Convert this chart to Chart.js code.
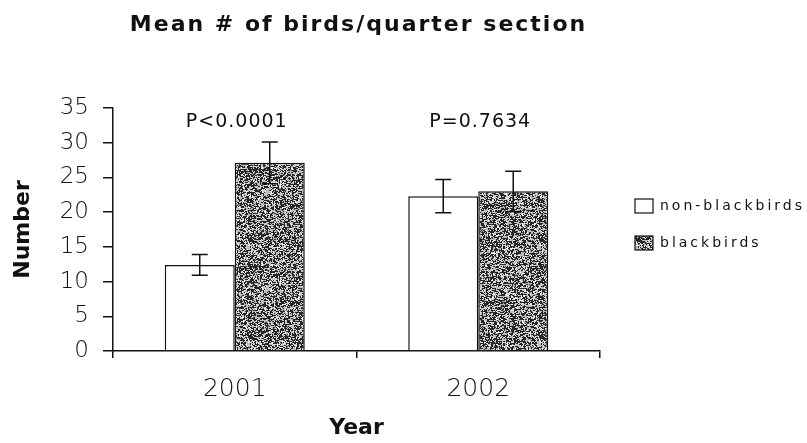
<!DOCTYPE html>
<html>
<head>
<meta charset="utf-8">
<script src="https://cdn.jsdelivr.net/npm/chart.js@4.4.1/dist/chart.umd.min.js"></script>
<style>
    html, body { margin: 0; padding: 0; background: #fff; }
    #wrap { width: 807px; height: 443px; }
</style>
</head>
<body>
<div id="wrap"><canvas id="birdsChart" width="807" height="443"></canvas></div>
<script>
// data
const years = ["2001", "2002"]
const nonBlackbirds = [12.4, 22.3]
const nonBlackbirdsErr = [1.5, 2.4]
const blackbirds = [27.1, 23.0]
const blackbirdsErr = [3.0, 2.9]
const pLabels = ["P<0.0001", "P=0.7634"]
const yMin = 0
const yMax = 35
const yStep = 5

const ink = "#111"

// speckled grey fill like the scanned hatch, fixed seed so it looks the same every time
function makeSpeckle() {
    const c = document.createElement("canvas")
    c.width = 97
    c.height = 97
    const g = c.getContext("2d")
    g.fillStyle = "#bcbcbc"
    g.fillRect(0, 0, c.width, c.height)
    let seed = 12345
    const rnd = () => {
        seed = (seed * 1103515245 + 12345) % 2147483648
        return seed / 2147483648
    }
    for (let y = 0; y < c.height; y++) {
        for (let x = 0; x < c.width; x++) {
            const r = rnd()
            if (r < 0.4) {
                g.fillStyle = "#262626"
                g.fillRect(x, y, rnd() < 0.5 ? 2 : 1, 1)
            } else if (r < 0.55) {
                g.fillStyle = "#f4f4f4"
                g.fillRect(x, y, 1, 1)
            }
        }
    }
    return g.createPattern(c, "repeat")
}

const speckle = makeSpeckle()

// error bars, p-values, title and legend drawn on top
const extrasPlugin = {
    id: "extras",
    afterDatasetsDraw(chart) {
        const ctx = chart.ctx
        const yScale = chart.scales.y
        ctx.save()
        ctx.strokeStyle = ink
        ctx.lineWidth = 1.5
        chart.data.datasets.forEach((ds, di) => {
            const meta = chart.getDatasetMeta(di)
            meta.data.forEach((bar, i) => {
                const v = ds.data[i]
                const e = ds.errors[i]
                const top = yScale.getPixelForValue(v + e)
                const bot = yScale.getPixelForValue(v - e)
                const cap = 8
                ctx.beginPath()
                ctx.moveTo(bar.x, top)
                ctx.lineTo(bar.x, bot)
                ctx.moveTo(bar.x - cap, top)
                ctx.lineTo(bar.x + cap, top)
                ctx.moveTo(bar.x - cap, bot)
                ctx.lineTo(bar.x + cap, bot)
                ctx.stroke()
            })
        })
        ctx.restore()
    },
    afterDraw(chart) {
        const ctx = chart.ctx
        const xScale = chart.scales.x
        const area = chart.chartArea
        ctx.save()
        ctx.fillStyle = ink

        // title, centred over the plot area
        ctx.font = "bold 22px 'DejaVu Sans'"
        ctx.textAlign = "center"
        ctx.textBaseline = "middle"
        ctx.letterSpacing = "2px"
        ctx.fillText("Mean # of birds/quarter section", (area.left + area.right) / 2 + 2, 25)

        // p-values above each year
        ctx.font = "19px 'DejaVu Sans'"
        ctx.letterSpacing = "1px"
        ctx.textAlign = "center"
        pLabels.forEach((t, i) => {
            ctx.fillText(t, xScale.getPixelForValue(i) + 2, 122)
        })

        // legend
        ctx.font = "14px 'DejaVu Sans'"
        ctx.letterSpacing = "3px"
        ctx.textAlign = "left"
        const rows = [206, 243]
        chart.data.datasets.forEach((ds, di) => {
            const y = rows[di]
            ctx.fillStyle = ds.backgroundColor
            ctx.fillRect(635, y - 7, 18, 14)
            ctx.strokeStyle = ink
            ctx.lineWidth = 1.2
            ctx.strokeRect(635, y - 7, 18, 14)
            ctx.fillStyle = ink
            ctx.fillText(ds.label, 660, y)
        })
        ctx.restore()
    }
}

new Chart(document.getElementById("birdsChart"), {
    type: "bar",
    data: {
        labels: years,
        datasets: [
            {
                label: "non-blackbirds",
                data: nonBlackbirds,
                errors: nonBlackbirdsErr,
                backgroundColor: "#ffffff",
                borderColor: ink,
                borderWidth: 1.5
            },
            {
                label: "blackbirds",
                data: blackbirds,
                errors: blackbirdsErr,
                backgroundColor: speckle,
                borderColor: ink,
                borderWidth: 1.5
            }
        ]
    },
    options: {
        responsive: false,
        animation: false,
        devicePixelRatio: 1,
        layout: {
            padding: { left: 0, top: 108, right: 207, bottom: 0 }
        },
        datasets: {
            bar: {
                barPercentage: 1,
                categoryPercentage: 0.575
            }
        },
        plugins: {
            legend: { display: false },
            title: { display: false },
            tooltip: { enabled: false }
        },
        scales: {
            x: {
                afterFit: (scale) => { scale.height = 92 },
                grid: {
                    drawOnChartArea: false,
                    offset: true,
                    tickLength: 7,
                    color: ink,
                    lineWidth: 1.5
                },
                border: { color: ink, width: 1.5 },
                ticks: {
                    color: ink,
                    padding: 16,
                    font: { family: "'DejaVu Sans'", size: 25, weight: "300" }
                },
                title: {
                    display: true,
                    text: "Year",
                    color: ink,
                    padding: { top: 0, bottom: 2 },
                    font: { family: "'DejaVu Sans'", size: 22, weight: "bold" }
                }
            },
            y: {
                min: yMin,
                max: yMax,
                afterFit: (scale) => { scale.width = 113 },
                grid: {
                    drawOnChartArea: false,
                    tickLength: 10,
                    color: ink,
                    lineWidth: 1.5
                },
                border: { color: ink, width: 1.5 },
                ticks: {
                    stepSize: yStep,
                    color: ink,
                    padding: 14,
                    font: { family: "'DejaVu Sans'", size: 23, weight: "300" }
                },
                title: {
                    display: true,
                    text: "Number",
                    color: ink,
                    padding: { top: 10, bottom: 0 },
                    font: { family: "'DejaVu Sans'", size: 22, weight: "bold" }
                }
            }
        }
    },
    plugins: [extrasPlugin]
})
</script>
</body>
</html>
